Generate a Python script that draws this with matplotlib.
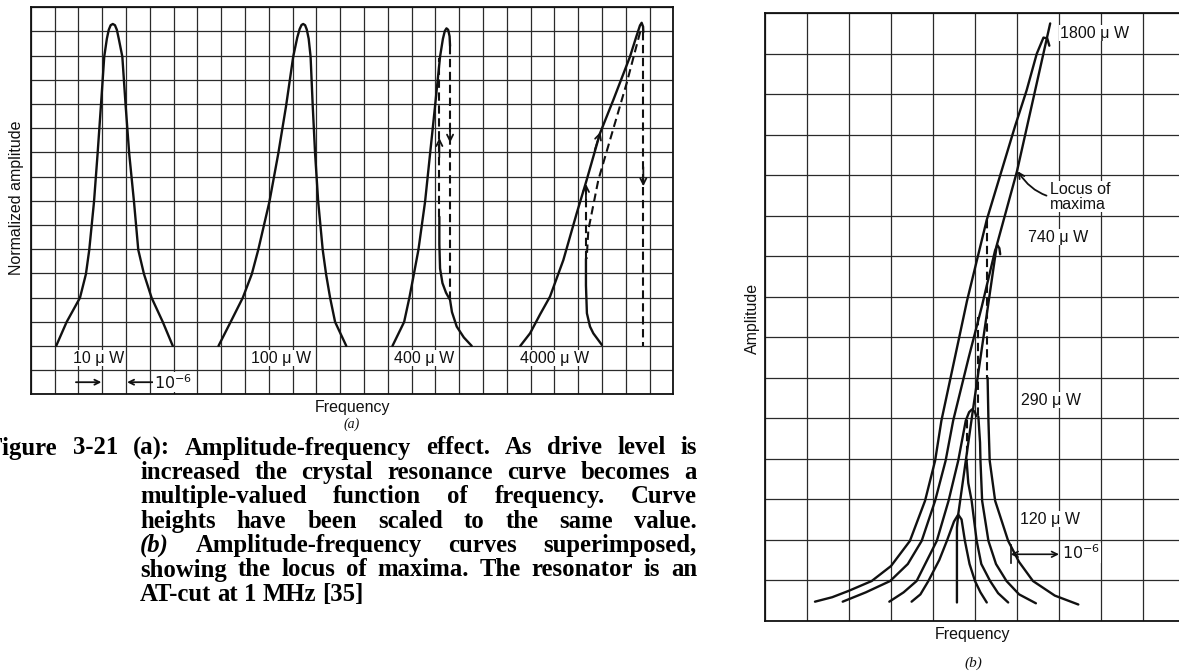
import matplotlib.pyplot as plt
import numpy as np

W, H = 1179, 672

# ---- panel (a): grid units, 27 columns x 16 rows ----
a10_x = [1.07, 1.51, 2.07, 2.32, 2.46, 2.66, 2.81, 2.95, 3.09, 3.2, 3.28, 3.36, 3.45, 3.54, 3.62, 3.7, 3.85, 3.99, 4.14, 4.34, 4.52, 4.76, 5.08, 5.55, 5.97]
a10_y = [2.0, 2.99, 3.99, 4.97, 5.97, 7.96, 9.94, 11.92, 13.96, 14.7, 15.07, 15.26, 15.31, 15.26, 15.07, 14.7, 13.96, 11.92, 9.94, 7.96, 5.97, 4.97, 3.99, 2.99, 2.0]

a100_x = [7.89, 8.4, 8.91, 9.29, 9.56, 10.03, 10.4, 10.73, 11.03, 11.2, 11.3, 11.38, 11.45, 11.53, 11.6, 11.68, 11.76, 11.85, 11.95, 12.08, 12.27, 12.41, 12.58, 12.79, 13.26]
a100_y = [2.0, 2.99, 3.99, 4.97, 5.97, 7.96, 9.94, 11.92, 13.96, 14.75, 15.1, 15.27, 15.31, 15.26, 15.08, 14.7, 13.96, 11.92, 9.94, 7.96, 5.97, 4.97, 3.99, 2.99, 2.0]

a400_up_x = [15.2, 15.69, 15.91, 16.1, 16.29, 16.57, 16.78, 16.99, 17.2, 17.32, 17.4, 17.47, 17.54, 17.6, 17.62]
a400_up_y = [2.0, 2.99, 3.99, 4.97, 5.97, 7.96, 9.94, 11.92, 13.96, 14.7, 15.02, 15.13, 15.07, 14.8, 14.4]
a400_low_x = [17.17, 17.17, 17.2, 17.3, 17.45, 17.62, 17.7, 17.9, 18.2, 18.53]
a400_low_y = [7.34, 6.2, 5.2, 4.6, 4.2, 3.9, 3.4, 2.8, 2.35, 2.0]
a400_jump_down = [17.62, 14.4, 4.0]
a400_jump_up = [17.17, 7.34, 13.9]

a4000_up_x = [20.57, 20.98, 21.4, 21.82, 22.38, 22.94, 23.36, 23.92, 24.48, 25.18, 25.45, 25.6, 25.67, 25.73, 25.74]
a4000_up_y = [2.0, 2.52, 3.3, 4.04, 5.55, 7.48, 8.86, 10.79, 12.17, 13.96, 14.8, 15.25, 15.36, 15.2, 14.97]
a4000_mid_x = [25.61, 25.04, 24.34, 23.85, 23.43, 23.36]
a4000_mid_y = [14.99, 12.86, 10.51, 8.86, 6.79, 5.6]
a4000_low_x = [23.33, 23.33, 23.37, 23.5, 23.64, 24.0]
a4000_low_y = [5.6, 4.5, 3.35, 2.8, 2.52, 2.04]
a4000_jump_down = [25.74, 14.97, 2.0]
a4000_jump_up = [23.33, 5.6, 8.76]

a_labels = ['10 μ W', '100 μ W', '400 μ W', '4000 μ W']
a_label_x = [1.78, 9.25, 15.25, 20.56]

# ---- panel (b): grid units, 10 columns x 15 rows ----
b1800_x = [1.19, 1.6, 2.0, 2.54, 3.0, 3.45, 3.81, 4.05, 4.2, 4.81, 5.28, 5.95, 6.23, 6.47, 6.63, 6.72, 6.77]
b1800_y = [0.47, 0.58, 0.74, 0.98, 1.35, 1.97, 2.96, 3.95, 4.94, 7.9, 9.9, 12.2, 13.1, 14.0, 14.4, 14.38, 14.2]
b1800_low_x = [5.3, 5.32, 5.35, 5.48, 5.79, 6.05, 6.38, 6.9, 7.46]
b1800_low_y = [6.0, 4.94, 3.95, 2.96, 1.97, 1.45, 0.98, 0.62, 0.4]
b1800_jump = [5.29, 9.9, 6.0]

b740_x = [1.85, 2.4, 2.98, 3.4, 3.73, 4.05, 4.3, 4.48, 4.85, 5.16, 5.4, 5.48, 5.53, 5.58, 5.6]
b740_y = [0.47, 0.7, 0.98, 1.4, 1.97, 2.96, 3.95, 4.94, 6.5, 7.75, 8.8, 9.15, 9.28, 9.2, 9.05]
b740_low_x = [5.08, 5.12, 5.13, 5.17, 5.32, 5.5, 5.75, 6.05, 6.45]
b740_low_y = [5.04, 4.4, 3.95, 2.96, 1.97, 1.4, 0.98, 0.65, 0.43]
b740_jump = [5.07, 7.5, 5.04]

b290_x = [2.96, 3.3, 3.61, 4.09, 4.37, 4.6, 4.78, 4.86, 4.93, 5.0, 5.03]
b290_y = [0.47, 0.7, 0.98, 1.97, 2.96, 3.95, 4.94, 5.15, 5.22, 5.15, 5.05]
b290_low_x = [4.8, 4.84, 4.92, 5.04, 5.15, 5.36, 5.55, 5.79]
b290_low_y = [3.95, 3.4, 2.96, 1.97, 1.4, 0.98, 0.68, 0.45]
b290_jump = [4.8, 4.95, 3.95]

b120_x = [3.49, 3.7, 3.89, 4.15, 4.33, 4.5, 4.6, 4.68, 4.76, 4.87, 5.0, 5.13, 5.28]
b120_y = [0.47, 0.65, 0.98, 1.5, 1.97, 2.45, 2.62, 2.5, 1.97, 1.4, 0.98, 0.7, 0.45]

locus_x = [4.57, 4.57, 4.6, 4.95, 5.52, 6.0, 6.79]
locus_y = [0.45, 2.3, 2.62, 5.2, 9.28, 11.1, 14.75]

b_labels = ['1800 μ W', '740 μ W', '290 μ W', '120 μ W']
b_label_x = [7.02, 6.26, 6.1, 6.07]
b_label_y = [14.51, 9.47, 5.45, 2.51]

caption = [
    "Figure 3-21 (a): Amplitude-frequency effect. As drive level is",
    "increased the crystal resonance curve becomes a",
    "multiple-valued function of frequency. Curve",
    "heights have been scaled to the same value.",
    "(b) Amplitude-frequency curves superimposed,",
    "showing the locus of maxima. The resonator is an",
    "AT-cut at 1 MHz [35]",
]

INK = '#111111'
GRID = '#2a2a2a'
LBL = dict(family='Liberation Sans', fontsize=11.5, color=INK)


def px(x, y):
    return x / W, 1 - y / H


def grid_axes(rect, ncol, nrow):
    ax = fig.add_axes(rect)
    ax.set_xlim(0, ncol)
    ax.set_ylim(0, nrow)
    ax.set_xticks(np.arange(ncol + 1))
    ax.set_yticks(np.arange(nrow + 1))
    ax.grid(True, color=GRID, lw=0.9)
    ax.set_axisbelow(True)
    ax.tick_params(length=0, labelbottom=False, labelleft=False)
    for s in ax.spines.values():
        s.set_linewidth(1.3)
        s.set_color(INK)
    return ax


def solid(ax, x, y):
    ax.plot(x, y, color=INK, lw=1.7, solid_capstyle='round', solid_joinstyle='round', zorder=3)


def dashed(ax, x, y):
    ax.plot(x, y, color=INK, lw=1.5, dashes=(4, 2.2), zorder=3)


def arrow(ax, tail, head, ms=11):
    ax.annotate('', xy=head, xytext=tail,
                arrowprops=dict(arrowstyle='->', color=INK, lw=1.3,
                                mutation_scale=ms, shrinkA=0, shrinkB=0), zorder=4)


fig = plt.figure(figsize=(W / 100, H / 100), dpi=100)

# ---------------- (a) ----------------
axa = grid_axes([30.7 / W, (H - 394.3) / H, 642.6 / W, 387 / H], 27, 16)
solid(axa, a10_x, a10_y)
solid(axa, a100_x, a100_y)
solid(axa, a400_up_x, a400_up_y)
solid(axa, a400_low_x, a400_low_y)
dashed(axa, [a400_jump_down[0]] * 2, a400_jump_down[1:])
dashed(axa, [a400_jump_up[0]] * 2, a400_jump_up[1:])
arrow(axa, (17.62, 11.2), (17.62, 10.4))
arrow(axa, (17.17, 9.8), (17.17, 10.6))

solid(axa, a4000_up_x, a4000_up_y)
dashed(axa, a4000_mid_x, a4000_mid_y)
solid(axa, a4000_low_x, a4000_low_y)
dashed(axa, [a4000_jump_down[0]] * 2, a4000_jump_down[1:])
dashed(axa, [a4000_jump_up[0]] * 2, a4000_jump_up[1:])
arrow(axa, (25.74, 9.4), (25.74, 8.6))
arrow(axa, (23.33, 7.9), (23.33, 8.7))
arrow(axa, (23.7, 10.1), (23.94, 10.85))

for t, x in zip(a_labels, a_label_x):
    axa.text(x, 1.5, t, ha='left', va='center', zorder=5,
             bbox=dict(fc='white', ec='none', pad=0.5), **LBL)
arrow(axa, (1.9, 0.5), (2.97, 0.5), ms=9)
arrow(axa, (5.12, 0.5), (4.05, 0.5), ms=9)
axa.text(5.17, 0.5, r'$10^{-6}$', ha='left', va='center', zorder=5,
         bbox=dict(fc='white', ec='none', pad=0.5), **LBL)

fig.text(*px(17, 198), 'Normalized amplitude', rotation=90, ha='center', va='center', **LBL)
fig.text(*px(352, 408), 'Frequency', ha='center', va='center', **LBL)
fig.text(*px(352, 424), '(a)', ha='center', va='center', family='Liberation Serif',
         style='italic', fontsize=10, color=INK)

# ---------------- (b) ----------------
axb = grid_axes([765 / W, (H - 620.7) / H, 420 / W, 607.4 / H], 10, 15)
solid(axb, b1800_x, b1800_y)
solid(axb, b1800_low_x, b1800_low_y)
dashed(axb, [b1800_jump[0]] * 2, b1800_jump[1:])
solid(axb, b740_x, b740_y)
solid(axb, b740_low_x, b740_low_y)
dashed(axb, [b740_jump[0]] * 2, b740_jump[1:])
solid(axb, b290_x, b290_y)
solid(axb, b290_low_x, b290_low_y)
dashed(axb, [b290_jump[0]] * 2, b290_jump[1:])
solid(axb, b120_x, b120_y)
solid(axb, locus_x, locus_y)

for t, x, y in zip(b_labels, b_label_x, b_label_y):
    axb.text(x, y, t, ha='left', va='center', zorder=5,
             bbox=dict(fc='white', ec='none', pad=0.5), **LBL)
axb.annotate('Locus of\nmaxima', xy=(6.02, 11.1), xytext=(6.78, 10.47),
             ha='left', va='center', linespacing=1.0, zorder=5,
             bbox=dict(fc='white', ec='none', pad=0.5),
             arrowprops=dict(arrowstyle='->', color=INK, lw=1.3, mutation_scale=10,
                             connectionstyle='arc3,rad=-0.35', shrinkA=2, shrinkB=0),
             **LBL)
axb.plot([5.85, 5.85], [1.42, 1.88], color=INK, lw=1.2, zorder=3)
axb.annotate('', xy=(7.0, 1.64), xytext=(5.85, 1.64),
             arrowprops=dict(arrowstyle='<->', color=INK, lw=1.2, mutation_scale=10,
                             shrinkA=0, shrinkB=0), zorder=4)
axb.text(7.07, 1.67, r'$10^{-6}$', ha='left', va='center', zorder=5,
         bbox=dict(fc='white', ec='none', pad=0.5), **LBL)

fig.text(*px(752, 318), 'Amplitude', rotation=90, ha='center', va='center', **LBL)
fig.text(*px(973, 634), 'Frequency', ha='center', va='center', **LBL)
fig.text(*px(973, 663), '(b)', ha='center', va='center', family='Liberation Serif',
         style='italic', fontsize=11, color=INK)

# ---------------- caption (justified) ----------------
r = fig.canvas.get_renderer()
probe = fig.text(0, 0, caption[-1], family='Liberation Serif', weight='bold', fontsize=10)
fs = 10 * 224 / probe.get_window_extent(r).width
probe.remove()

cap_x0 = [-12] + [140] * 6
cap_y0, cap_dy = 448, 24.4
for i, line in enumerate(caption):
    words = line.split(' ')
    arts = []
    for w in words:
        st = 'italic' if w == '(b)' else 'normal'
        arts.append(fig.text(0, 0, w, family='Liberation Serif', weight='bold', style=st,
                             fontsize=fs, color='black', ha='left', va='center'))
    widths = [a.get_window_extent(r).width for a in arts]
    if i < len(caption) - 1:
        gap = (697 - cap_x0[i] - sum(widths)) / (len(words) - 1)
    else:
        gap = fs * 0.25 * 100 / 72
    x = cap_x0[i]
    y = cap_y0 + i * cap_dy
    for a, wd in zip(arts, widths):
        a.set_position(px(x, y))
        x += wd + gap

fig.savefig('out.png', dpi=100)
